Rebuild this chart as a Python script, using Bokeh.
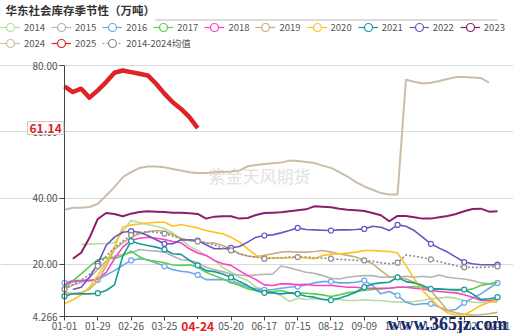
import math
from bokeh.plotting import figure
from bokeh.models import (Range1d, FixedTicker, Label, Legend, LegendItem, BoxAnnotation)
from bokeh.embed import file_html
from bokeh.resources import INLINE

nan = float("nan")

dates = ["01-01", "01-08", "01-15", "01-22", "01-29", "02-05", "02-12", "02-19", "02-26",
         "03-04", "03-11", "03-18", "03-25", "04-01", "04-08", "04-15", "04-22", "04-29",
         "05-06", "05-13", "05-20", "05-27", "06-03", "06-10", "06-17", "06-24", "07-01",
         "07-08", "07-15", "07-22", "07-29", "08-05", "08-12", "08-19", "08-26", "09-02",
         "09-09", "09-16", "09-23", "09-30", "10-07", "10-14", "10-21", "10-28", "11-04",
         "11-11", "11-18", "11-25", "12-02", "12-09", "12-16", "12-23", "12-31"]

y2014 = [nan, nan, 26.0, 26.1, 26.2, 26.3, 26.5, 30.0, 33.2, 32.6, 32.0, 31.5, 30.8, 29.5, 27.5, 25.5, 24.2,
         22.7, 21.2, 19.1, 17.6, 16.1, 15.1, 13.1, 12.4, 11.6, 10.6, 8.8, 9.8, 9.4, 9.6, 9.5, 9.4,
         9.4, 9.1, 9.1, 9.3, 9.1, 9.1, 8.8, 8.6, 8.6, 8.8, 9.1, 9.6, 9.8, 10.1, 9.8, 9.1, 8.6, 8.4, 8.6, 8.6]
y2015 = [12.8, 13.8, 14.5, 16.0, 18.5, 21.0, 22.5, 23.0, 23.5, 24.5, 24.2, 24.0, 23.7, 22.5, 21.4, 21.2, 20.5,
         19.1, 18.4, 17.8, 17.1, 16.8, 16.6, 16.8, 17.0, 17.1, 19.5, 19.0, 18.3, 17.6, 17.3, 16.6, 15.8,
         15.6, 16.1, 16.4, 16.6, 16.6, 16.1, 16.1, 16.1, 16.4, 16.1, 16.4, 16.1, 16.8, 16.1, 15.8, 15.6, 15.1, 14.4, 14.1, 14.1]
y2016 = [14.4, 15.1, 15.1, 15.1, 15.3, 16.8, 18.1, 19.7, 21.2, 21.7, 21.4, 20.4, 19.4, 18.4, 17.9, 17.6, 16.8,
         15.4, 15.4, 15.4, 15.1, 14.1, 13.1, 12.6, 12.3, 12.4, 12.8, 13.1, 13.3, 13.8, 14.4, 14.8, 14.8,
         14.4, 14.4, 14.6, 15.1, 13.6, 11.1, 11.8, 10.6, 8.6, 7.8, 8.1, 8.1, 7.1, 6.1, 6.4, 8.4, 9.8, 11.1, 12.8, 14.4]
y2017 = [12.9, 15.0, 17.1, 19.3, 21.4, 22.0, 21.8, 22.6, 24.0, 22.3, 21.2, 20.9, 20.5, 19.8, 19.7, 19.9, 19.2,
         17.6, 16.6, 15.6, 14.6, 13.6, 12.6, 12.1, 11.8, 11.8, 12.1, 11.4, 11.4, 11.3, 11.1, 10.8, 10.3,
         10.8, 11.4, 11.8, 12.1, 12.4, 12.6, 12.8, 13.1, 13.1, 13.3, 13.1, 12.6, 12.4, 12.4, 12.1, 12.1, 12.6, 13.6, 14.1, 14.6]
y2018 = [13.9, 14.8, 15.1, 15.1, 15.6, 17.6, 21.7, 25.2, 27.2, 27.9, 28.2, 27.9, 27.5, 26.9, 26.5, 24.7, 23.4,
         22.7, 21.2, 20.2, 19.7, 18.1, 16.6, 15.4, 13.8, 13.6, 14.1, 14.1, 13.8, 14.0, 13.6, 13.6, 13.6,
         13.4, 13.1, 13.1, 12.8, 12.8, 12.8, 12.8, 13.1, 13.1, 12.8, 12.6, 12.1, 11.8, 11.6, 11.4, 10.8, 10.1, 9.1, 9.1, 9.4]
y2019 = [11.5, 11.2, 11.5, 12.5, 15.0, 19.5, 24.5, 26.5, 28.2, 29.2, 29.8, 30.2, 30.0, 29.0, 27.8, 27.2, 26.9,
         26.5, 26.4, 25.7, 24.7, 23.2, 22.5, 22.2, 22.7, 23.2, 23.7, 23.9, 23.7, 23.7, 23.9, 24.2, 23.7,
         23.2, 22.7, 22.2, 21.2, 20.2, 18.1, 16.3, 16.1, 15.6, 14.6, 13.6, 12.1, 9.1, 6.1, 5.4, 4.9, 4.7, 4.8, 5.1, 5.5]
y2020 = [8.1, 9.3, 10.8, 13.1, 16.6, 20.7, 25.2, 31.2, 31.9, 32.2, 32.5, 32.7, 32.7, 31.5, 32.0, 31.5, 31.0,
         30.2, 29.7, 29.2, 28.2, 26.7, 24.7, 22.7, 21.9, 21.9, 21.9, 21.9, 22.2, 21.9, 21.7, 22.7, 23.0,
         23.2, 23.4, 23.7, 24.2, 24.2, 24.0, 23.9, 23.4, 19.7, 15.6, 12.1, 9.6, 7.1, 5.4, 4.7, 4.8, 6.1, 7.6, 8.6, 9.0]
y2021 = [10.4, 11.1, 11.1, 11.1, 11.3, 12.1, 13.8, 22.5, 27.0, 26.2, 25.7, 25.2, 24.5, 23.2, 23.0, 21.2, 19.7,
         18.1, 17.8, 17.1, 16.1, 14.8, 13.6, 12.1, 11.4, 11.4, 11.1, 11.4, 11.1, 10.4, 10.1, 9.4, 9.2,
         9.8, 10.6, 11.6, 13.1, 14.1, 14.4, 14.6, 16.1, 14.8, 14.4, 13.6, 12.6, 12.6, 12.4, 12.4, 12.4, 11.1, 9.4, 9.6, 10.1]
y2022 = [nan, 12.4, 13.1, 16.1, 20.2, 25.7, 28.2, 29.7, 30.0, 29.7, 28.7, 27.4, 26.2, 26.2, 27.4, 27.4, 27.2,
         25.9, 24.7, 24.7, 25.0, 25.4, 26.7, 28.2, 28.7, 28.9, 29.5, 30.2, 31.0, 30.5, 30.4, 30.3, 30.2,
         30.4, 30.4, 30.5, 30.7, 31.5, 31.2, 30.2, 31.9, 31.5, 30.2, 28.2, 26.2, 24.9, 23.7, 22.2, 20.7, 20.2, 19.9, 19.9, 19.9]
y2023 = [nan, 21.7, 23.5, 28.0, 33.7, 35.5, 35.2, 34.5, 35.3, 35.8, 36.0, 35.9, 35.8, 35.6, 35.6, 35.4, 35.2,
         33.8, 34.4, 34.5, 34.5, 33.8, 34.0, 34.9, 35.5, 35.6, 35.7, 36.0, 36.3, 36.6, 37.5, 37.4, 37.2,
         36.8, 36.5, 36.3, 36.1, 35.5, 34.8, 33.0, 34.6, 34.6, 34.2, 33.8, 33.8, 34.2, 34.6, 35.2, 36.0, 36.7, 36.8, 35.9, 36.0]
y2024 = [36.5, 37.1, 37.1, 37.3, 38.3, 40.8, 43.3, 46.3, 47.8, 49.1, 49.5, 49.5, 49.3, 48.8, 48.3, 47.8, 47.6,
         47.6, 47.8, 47.9, 48.0, 48.3, 49.6, 50.0, 50.3, 50.5, 50.7, 51.3, 51.2, 50.9, 50.6, 49.8, 49.1,
         47.8, 46.5, 44.8, 43.5, 42.5, 41.5, 41.1, 41.1, 75.7, 75.1, 74.6, 74.8, 75.3, 75.9, 76.5, 76.5, 76.4, 76.2, 74.8]
y2025 = [73.7, 72.0, 73.0, 70.3, 72.5, 75.0, 77.8, 78.5, 78.0, 77.5, 77.0, 74.5, 71.5, 68.9, 66.9, 64.4, 61.14]
yavg = [12.5, 13.8, 15.3, 17.0, 19.5, 22.5, 25.0, 27.0, 28.8, 29.6, 29.9, 29.7, 29.3, 28.5, 27.8, 27.2, 26.9,
        26.5, 25.9, 24.9, 24.2, 23.2, 22.5, 22.2, 21.7, 21.9, 22.0, 22.2, 22.2, 22.2, 22.0, 21.9, 21.7,
        21.5, 21.4, 21.2, 21.2, 20.9, 20.5, 20.2, 20.5, 22.8, 22.5, 22.0, 21.5, 20.8, 20.2, 19.6, 19.1, 19.1, 19.1, 19.2, 19.4]

y_ticks = [4.266, 20, 40, 60, 80]
y_tick_labels = ["4.266", "20.00", "40.00", "60.00", "80.00"]
latest_label = "61.14"
latest_date = "04-24"

series = [
    ("2014", y2014), ("2015", y2015), ("2016", y2016), ("2017", y2017), ("2018", y2018),
    ("2019", y2019), ("2020", y2020), ("2021", y2021), ("2022", y2022), ("2023", y2023),
    ("2024", y2024), ("2025", y2025), ("2014-2024均值", yavg),
]
colors = {"2014": "#b5dd9c", "2015": "#b3b3b3", "2016": "#6ea8e6", "2017": "#58cf4a",
          "2018": "#ff3fc6", "2019": "#c4b07b", "2020": "#ffc020", "2021": "#159a9c",
          "2022": "#6a54c0", "2023": "#8c1d6c", "2024": "#ccbdab", "2025": "#df2226",
          "2014-2024均值": "#8c8c8c"}
widths = {"2025": 4.5, "2024": 2.0, "2023": 2.0}
with_markers = {"2016", "2021", "2022", "2014-2024均值"}

FONT = "Noto Sans CJK SC"

# frame covers the whole canvas; data area = x 64..497 px, y 65..316 px
W, H = 513, 333
L, R, T, B = 64, 497, 65, 316
X0, X1 = 0, 52
Y0, Y1 = 4.266, 80
px_x = (X1 - X0) / (R - L)
px_y = (Y1 - Y0) / (B - T)

p = figure(width=W, height=H, output_backend="svg", toolbar_location=None,
           x_range=Range1d(X0 - L * px_x, X1 + (W - R) * px_x),
           y_range=Range1d(Y0 - (H - B) * px_y, Y1 + T * px_y),
           min_border=0, min_border_left=0, min_border_right=0,
           min_border_top=0, min_border_bottom=0)
p.outline_line_color = None
p.background_fill_color = "white"
p.border_fill_color = "white"

# axes
p.xaxis.fixed_location = Y0
p.yaxis.fixed_location = X0
p.xaxis.bounds = (X0, X1)
p.yaxis.bounds = (Y0, Y1)
p.xaxis.ticker = FixedTicker(ticks=list(range(0, 53, 4)))
p.xaxis.major_label_overrides = {i: dates[i] for i in range(0, 53, 4)}
p.yaxis.ticker = FixedTicker(ticks=y_ticks)
p.yaxis.major_label_overrides = {t: l for t, l in zip(y_ticks, y_tick_labels)}
for ax in (p.xaxis[0], p.yaxis[0]):
    ax.axis_line_color = "#444444"
    ax.major_tick_line_color = "#444444"
    ax.minor_tick_line_color = None
    ax.major_tick_in = 0
    ax.major_label_text_font = FONT
    ax.major_label_text_font_size = "10px"
    ax.major_label_text_color = "#555555"
p.xaxis.major_tick_out = 4
p.xaxis.major_label_standoff = 1
p.yaxis.major_tick_out = 5
p.yaxis.major_label_standoff = 2
p.xgrid.grid_line_color = None
p.ygrid.ticker = FixedTicker(ticks=[20, 40, 60, 80])
p.ygrid.bounds = (X0, X1)
p.ygrid.grid_line_color = "#d9d9d9"

# watermark (under the lines)
p.add_layout(Label(x=X0 + (208 - L) * px_x, y=Y1 - (175 - T) * px_y, text="紫金天风期货",
                   text_font=FONT, text_font_size="17px", text_color="#e2e2e2",
                   text_baseline="middle", level="underlay"))

row1, row2 = [], []
for idx, (name, vals) in enumerate(series):
    xs = list(range(len(vals)))
    c = colors[name]
    dash = "2 2" if name == "2014-2024均值" else "solid"
    p.line(xs, vals, line_color=c, line_width=widths.get(name, 1.6), line_dash=dash,
           line_join="round")
    if name in with_markers:
        mx = [x for x in xs[::4] if not math.isnan(vals[x])]
        my = [vals[x] for x in mx]
        p.scatter(mx, my, marker="circle", size=5, fill_color="white", line_color=c,
                  line_width=1.2)
    # legend-only glyphs (no visible data)
    ll = p.line([nan], [nan], line_color=c, line_width=1.2, line_dash=dash)
    ls = p.scatter([nan], [nan], marker="circle", fill_color="white", line_color=c,
                   line_width=1.2)
    item = LegendItem(label=name, renderers=[ll, ls])
    (row1 if idx < 10 else row2).append(item)

for items, ycenter in ((row1, 27), (row2, 43)):
    leg = Legend(items=items, orientation="horizontal", location=(0, H - ycenter - 11),
                 glyph_width=20, glyph_height=22, label_standoff=4, spacing=6,
                 padding=0, margin=0, label_text_font=FONT, label_text_font_size="9.5px",
                 label_text_color="#555555", border_line_color=None,
                 background_fill_alpha=0, label_height=22)
    p.add_layout(leg)

p.add_layout(Label(x=X0 + (5 - L) * px_x, y=Y1 + (T - 9) * px_y, text="华东社会库存季节性（万吨）",
                   text_font=FONT, text_font_size="11.5px", text_font_style="bold",
                   text_color="#333333", text_baseline="middle"))
p.add_layout(BoxAnnotation(left=X0 + (155 - L) * px_x, right=X1,
                           top=Y1 + (T - 19) * px_y, bottom=Y1 + (T - 20) * px_y,
                           fill_color="#b8b8b8", fill_alpha=1, line_color=None, level="overlay"))
p.add_layout(Label(x=X0 + (27 - L) * px_x, y=float(latest_label), text=latest_label,
                   text_font=FONT, text_font_size="12px", text_font_style="bold",
                   text_color="#df2226", text_baseline="middle", text_align="left",
                   background_fill_color="white", border_line_color="#cccccc",
                   padding=2, level="overlay"))
p.add_layout(Label(x=16, y=Y1 - (326 - T) * px_y, text=latest_date,
                   text_font=FONT, text_font_size="12px", text_font_style="bold",
                   text_color="#df2226", text_baseline="middle", text_align="center",
                   background_fill_color="white", padding=3, level="overlay"))
p.add_layout(Label(x=X0 + (387 - L) * px_x, y=Y1 - (323 - T) * px_y, text="www.365jz.com",
                   text_font="Liberation Serif", text_font_size="18px", text_font_style="bold",
                   text_color="#13296b", text_baseline="alphabetic", level="overlay"))

open("out.html", "w").write(file_html(p, INLINE))
